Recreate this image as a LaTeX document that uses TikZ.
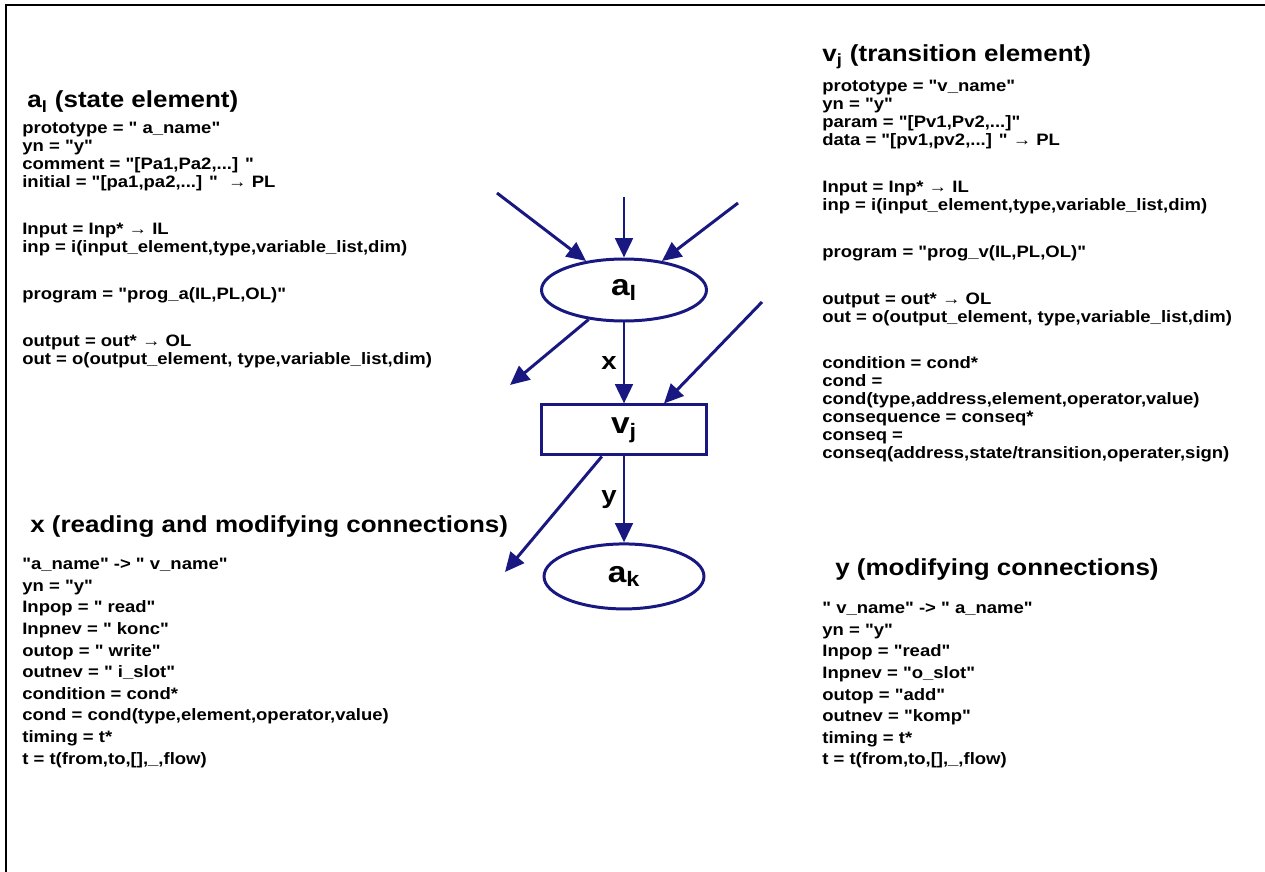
\documentclass[tikz,border=0pt]{standalone}
\usepackage{fontspec}
\setmainfont{Liberation Sans}[Ligatures=TeXOff, FakeStretch=1.12]
\usetikzlibrary{shapes.geometric, arrows.meta, positioning}
\definecolor{netblue}{RGB}{24,24,128}
\tikzset{
    place/.style={ellipse, draw=netblue, line width=1.7pt, minimum width=3.3cm, minimum height=1.24cm, inner sep=0pt, font=\fontsize{17}{20}\selectfont\bfseries},
    trans/.style={rectangle, draw=netblue, line width=1.7pt, minimum width=3.3cm, minimum height=1.0cm, inner sep=0pt, font=\fontsize{17}{20}\selectfont\bfseries},
    line/.style={draw=netblue, line width=1.7pt, -{Triangle[length=11pt, width=10pt]}},
    heading/.style={anchor=west, inner sep=0pt, font=\fontsize{13.2}{15}\selectfont\bfseries},
    spec/.style={anchor=north west, align=left, inner sep=0pt, font=\fontsize{9.4}{10.2}\selectfont\bfseries},
    wide spec/.style={spec, font=\fontsize{9.4}{12.3}\selectfont\bfseries}
}

\begin{document}
\begin{tikzpicture}[x=0.02cm, y=-0.02cm]
    \useasboundingbox (0,0) rectangle (1265,872);
    \draw[line width=1.6pt] (6,872) -- (6,5) -- (1265,5);

    % net
    \node [place] (al) at (624,290) {a\textsubscript{l}};
    \node [trans, below=1.62cm of al] (vj) {v\textsubscript{j}};
    \node [place, below=1.72cm of vj, minimum width=3.2cm, minimum height=1.3cm] (ak) {a\textsubscript{k}};

    \coordinate (in1) at (497,193);
    \coordinate (in2) at (624,197);
    \coordinate (in3) at (738,203);
    \coordinate (in4) at (762,302);
    \coordinate (out1) at (510,385);
    \coordinate (out2) at (505,572);

    \draw [line] (in1) -- (al);
    \draw [line] (in2) -- (al);
    \draw [line] (in3) -- (al);
    \draw [line] (al) -- (out1);
    \draw [line] (al) -- node[left, font=\fontsize{14}{16}\selectfont\bfseries] {x} (vj);
    \draw [line] (in4) -- ([xshift=0.8cm]vj.north);
    \draw [line] (vj) -- (out2);
    \draw [line] (vj) -- node[left, font=\fontsize{14}{16}\selectfont\bfseries] {y} (ak);

    % state element
    \node [heading] (atitle) at (27,102) {a\textsubscript{l} (state element)};
    \node [spec] (aspec) at (22,122) {prototype = " a\_name"\\
        yn = "y"\\
        comment = "[Pa1,Pa2,...] "\\
        initial = "[pa1,pa2,...] "\ \ → PL\\[16.5pt]
        Input = Inp* → IL\\
        inp = i(input\_element,type,variable\_list,dim)\\[16.5pt]
        program = "prog\_a(IL,PL,OL)"\\[16.5pt]
        output = out* → OL\\
        out = o(output\_element, type,variable\_list,dim)};

    % transition element
    \node [heading] (vtitle) at (822,57) {v\textsubscript{j} (transition element)};
    \node [spec] (vspec) at (822,80) {prototype = "v\_name"\\
        yn = "y"\\
        param = "[Pv1,Pv2,...]"\\
        data = "[pv1,pv2,...] " → PL\\[16.5pt]
        Input = Inp* → IL\\
        inp = i(input\_element,type,variable\_list,dim)\\[16.5pt]
        program = "prog\_v(IL,PL,OL)"\\[16.5pt]
        output = out* → OL\\
        out = o(output\_element, type,variable\_list,dim)\\[16.5pt]
        condition = cond*\\
        cond =\\
        cond(type,address,element,operator,value)\\
        consequence = conseq*\\
        conseq =\\
        conseq(address,state/transition,operater,sign)};

    % connections
    \node [heading] (xtitle) at (30,527) {x (reading and modifying connections)};
    \node [wide spec] (xspec) at (22,558) {"a\_name" -> " v\_name"\\
        yn = "y"\\
        Inpop = " read"\\
        Inpnev = " konc"\\
        outop = " write"\\
        outnev = " i\_slot"\\
        condition = cond*\\
        cond = cond(type,element,operator,value)\\
        timing = t*\\
        t = t(from,to,[],\_,flow)};

    \node [heading] (ytitle) at (835,570) {y (modifying connections)};
    \node [wide spec] (yspec) at (822,602) {" v\_name" -> " a\_name"\\
        yn = "y"\\
        Inpop = "read"\\
        Inpnev = "o\_slot"\\
        outop = "add"\\
        outnev = "komp"\\
        timing = t*\\
        t = t(from,to,[],\_,flow)};

\end{tikzpicture}
\end{document}
